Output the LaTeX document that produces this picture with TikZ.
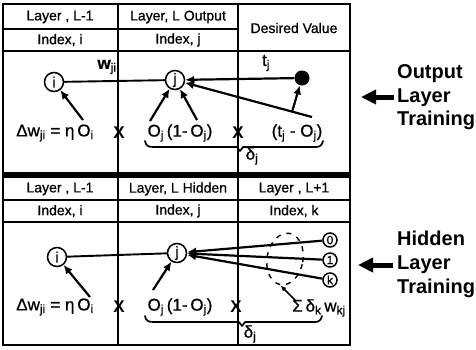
\documentclass[tikz,border=0pt]{standalone}
\usepackage{fontspec}
\setmainfont{Liberation Sans}
\newfontfamily\medfam{Liberation Sans}[FakeBold=0.8]
\usetikzlibrary{arrows.meta,shapes.geometric}
\newcommand\sbs[1]{\textsubscript{#1}}
\begin{document}
\begin{tikzpicture}[x=1pt,y=-1pt,
 frame/.style={line width=1.7pt},
 hdr/.style={font=\medfam\fontsize{14}{16}\selectfont, inner sep=0pt},
 lbl/.style={font=\medfam\fontsize{17}{19}\selectfont, inner sep=0pt},
 crossmark/.style={font=\fontsize{17}{19}\selectfont\bfseries, inner sep=0pt},
 side/.style={font=\fontsize{20}{22}\selectfont\bfseries, inner sep=0pt, anchor=base west},
 neuron/.style={circle, draw, line width=1.5pt, minimum size=19pt, inner sep=0pt, font=\medfam\fontsize{15}{17}\selectfont},
 smallneuron/.style={circle, draw, line width=1.5pt, minimum size=14pt, inner sep=0pt, font=\medfam\fontsize{12}{14}\selectfont},
 conn/.style={line width=1.9pt},
 arr/.style={line width=2.2pt, -{Latex[length=9pt,width=8pt]}},
 bigarrow/.style={line width=5pt, -{Triangle[length=15pt,width=14pt]}},
 bracket/.style={line width=1.7pt, line cap=round, line join=round}]

\useasboundingbox (0,0) rectangle (476,349);

% ---- table frame ----
\draw[frame] (3,4) rectangle (350,345);
\draw[line width=6pt] (3,174.5) -- (350,174.5);
\draw[frame] (3,29) -- (238,29);
\draw[frame] (3,51) -- (350,51);
\draw[frame] (118,4) -- (118,171.5);
\draw[frame] (238,4) -- (238,171.5);
\draw[frame] (3,200) -- (350,200);
\draw[frame] (3,222) -- (350,222);
\draw[frame] (118,177.5) -- (118,345);
\draw[frame] (238,177.5) -- (238,345);

% ---- headers ----
\node[hdr] (h1) at (60,17) {Layer , L-1};
\node[hdr] (h2) at (178,17) {Layer, L Output};
\node[hdr] (h3) at (294,28) {Desired Value};
\node[hdr] (h4) at (60,40) {Index, i};
\node[hdr] (h5) at (178,40) {Index, j};
\node[hdr] (h6) at (60,189) {Layer , L-1};
\node[hdr] (h7) at (178,189) {Layer, L Hidden};
\node[hdr] (h8) at (294,189) {Layer , L+1};
\node[hdr] (h9) at (60,211) {Index, i};
\node[hdr] (h10) at (178,211) {Index, j};
\node[hdr] (h11) at (294,211) {Index, k};

% ---- output layer body ----
\node[neuron] (iU) at (54,82) {i};
\node[neuron] (jU) at (175,80) {j};
\node[circle, fill, minimum size=15pt, inner sep=0pt] (tU) at (302,78) {};
\draw[conn] (iU) -- (jU);
\draw[arr] (tU) -- (jU);
\coordinate (eU) at (312,117);
\draw[arr] (eU) -- (jU);
\coordinate (eUm) at (292,112);
\draw[arr] (eUm) -- (tU);
\node[lbl] (wU) at (107,67) {\textbf{w}\sbs{ji}};
\node[lbl] (tjU) at (266,63) {t\sbs{j}};

\node[lbl] (dU) at (55,133) {Δw\sbs{ji} = η\,O\sbs{i}};
\node[crossmark] (x1U) at (119,133) {X};
\node[lbl] (oU) at (180,133) {O\sbs{j}\,(1-\,O\sbs{j})};
\node[crossmark] (x2U) at (238,133) {X};
\node[lbl] (teU) at (297,133) {(t\sbs{j} - O\sbs{j})};

\coordinate (aU1) at (150,121);
\coordinate (aU2) at (197,120);
\coordinate (aU3) at (83,120);
\draw[arr] (aU1) -- (jU);
\draw[arr] (aU2) -- (jU);
\draw[arr] (aU3) -- (iU);

\draw[bracket] (145,141) .. controls (146,146) and (148,147) .. (154,147) -- (237,147) -- (240,151) -- (243,147) -- (316,147) .. controls (320,147) and (322,145) .. (323,141);
\node[lbl] (dlU) at (252,156) {δ\sbs{j}};

% ---- hidden layer body ----
\node[neuron] (iL) at (57,257) {i};
\node[neuron] (jL) at (177,253) {j};
\node[smallneuron] (n0) at (330,240) {0};
\node[smallneuron] (n1) at (330,260) {1};
\node[smallneuron] (nk) at (330,280) {k};
\draw[conn] (iL) -- (jL);
\draw[arr] (n0) -- (jL);
\draw[arr] (n1) -- (jL);
\draw[arr] (nk) -- (jL);
\node[draw, ellipse, line width=1.4pt, dash pattern=on 5pt off 6pt, minimum width=36pt, minimum height=52pt, rotate=-10] (ring) at (285,259) {};
\coordinate (sL) at (295,300);
\draw[line width=1.7pt, -{Latex[length=6pt,width=5pt]}] (sL) -- (ring.south);
\node[lbl] (sumL) at (319,308) {Σ\,δ\sbs{k}\,w\sbs{kj}};

\node[lbl] (dL) at (55,307) {Δw\sbs{ji} = η\,O\sbs{i}};
\node[crossmark] (x1L) at (119,307) {X};
\node[lbl] (oL) at (180,307) {O\sbs{j}\,(1-\,O\sbs{j})};
\node[crossmark] (x2L) at (236,307) {X};

\coordinate (aL1) at (153,290);
\coordinate (aL3) at (90,297);
\draw[arr] (aL1) -- (jL);
\draw[arr] (aL3) -- (iL);

\draw[bracket] (145,316) .. controls (146,321) and (148,322) .. (154,322) -- (239,322) -- (242,326) -- (245,322) -- (315,322) .. controls (319,322) and (321,320) .. (322,316);
\node[lbl] (dlL) at (250,334) {δ\sbs{j}};

% ---- side labels ----
\node[side] (o1) at (397,78) {Output};
\node[side] (o2) at (397,102) {Layer};
\node[side] (o3) at (397,125) {Training};
\coordinate (tailU) at (394,97);
\coordinate (tipU) at (361,97);
\draw[bigarrow] (tailU) -- (tipU);

\node[side] (p1) at (397,245) {Hidden};
\node[side] (p2) at (397,269) {Layer};
\node[side] (p3) at (397,293) {Training};
\coordinate (tailL) at (393,265);
\coordinate (tipL) at (358,265);
\draw[bigarrow] (tailL) -- (tipL);
\end{tikzpicture}
\end{document}
